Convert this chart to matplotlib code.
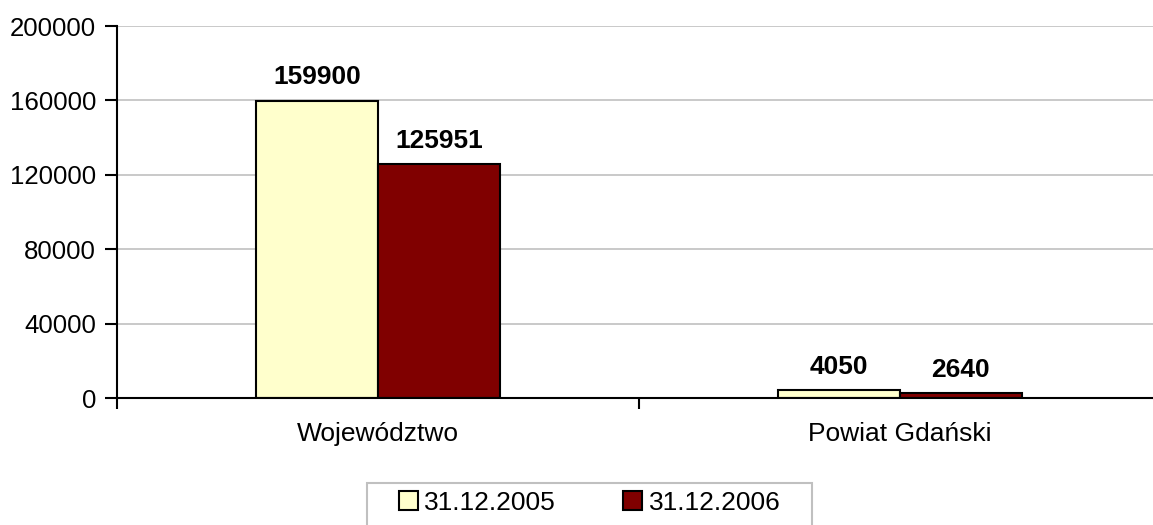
import matplotlib.pyplot as plt
import numpy as np
from matplotlib.ticker import FuncFormatter
from matplotlib.patches import Rectangle

# Dane z wykresu
kategorie = ["Województwo", "Powiat Gdański"]
serie = ["31.12.2005", "31.12.2006"]
wartosci_2005 = [159900, 4050]
wartosci_2006 = [125951, 2640]
kolory = ["#FFFFCC", "#800000"]

plt.rcParams['font.family'] = ['Liberation Sans', 'DejaVu Sans']

fig = plt.figure(figsize=(11.53, 5.25), dpi=100)
ax = fig.add_axes([117 / 1153, 127 / 525, 1044 / 1153, 372 / 525])

x = np.arange(len(kategorie))
szer = 0.233

b1 = ax.bar(x - szer / 2, wartosci_2005, szer, color=kolory[0], edgecolor='black',
            linewidth=1.5, label=serie[0], zorder=3)
b2 = ax.bar(x + szer / 2, wartosci_2006, szer, color=kolory[1], edgecolor='black',
            linewidth=1.5, label=serie[1], zorder=3)

# Etykiety danych
ax.bar_label(b1, padding=8, fontsize=19, fontweight='bold')
ax.bar_label(b2, padding=8, fontsize=19, fontweight='bold')

ax.set_xlim(-0.5, len(kategorie) - 0.5)
ax.set_ylim(0, 200000)
ax.set_yticks(np.arange(0, 200001, 40000))
ax.yaxis.set_major_formatter(FuncFormatter(lambda v, p: "%d" % v))

# Kategorie na środku, kreski na granicach
ax.set_xticks(x)
ax.set_xticklabels(kategorie)
ax.set_xticks(np.arange(-0.5, len(kategorie), 1.0), minor=True)
ax.tick_params(axis='x', which='major', length=0, pad=17, labelsize=19)
ax.tick_params(axis='x', which='minor', length=8, width=1.5, direction='out')
ax.tick_params(axis='y', length=9, width=1.5, direction='out', pad=6, labelsize=18.6)

# Siatka
ax.yaxis.grid(True, color='#c0c0c0', linewidth=1.2)
ax.set_axisbelow(True)

for s in ['top', 'right']:
    ax.spines[s].set_visible(False)
for s in ['left', 'bottom']:
    ax.spines[s].set_linewidth(1.5)
    ax.spines[s].set_zorder(4)

# Legenda (ramka rysowana osobno, szersza niż wysoka)
leg = fig.legend(loc='center', bbox_to_anchor=(589.5 / 1153, 1 - 503 / 525), ncol=2,
                 fontsize=19, handlelength=0.72, handleheight=0.72, handletextpad=0.25,
                 columnspacing=2.55, borderpad=0.0, frameon=False)
ramka = Rectangle((367 / 1153, -0.02), (812 - 367) / 1153, 0.02 + 42 / 525,
                  transform=fig.transFigure, fill=False, edgecolor='#c0c0c0', linewidth=1.5)
fig.patches.append(ramka)

plt.savefig('out.png', dpi=100)
